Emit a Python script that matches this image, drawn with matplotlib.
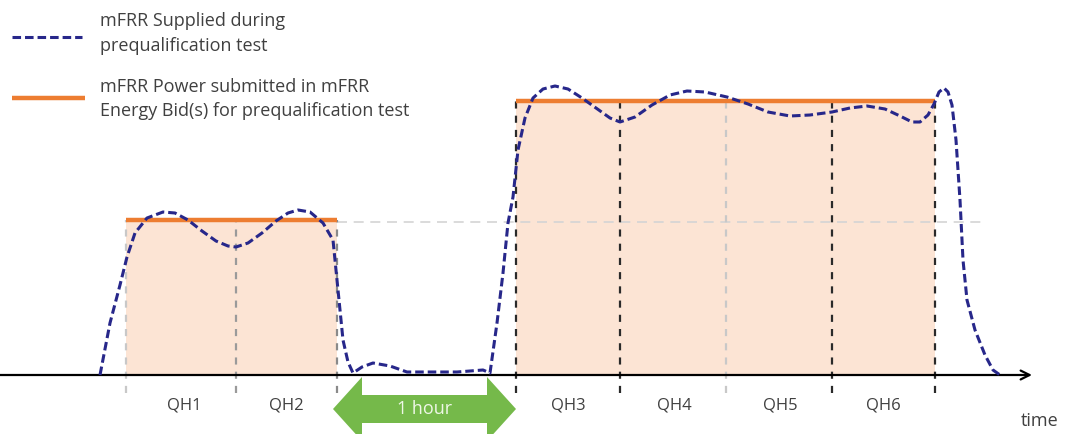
import matplotlib
matplotlib.use("Agg")
import matplotlib.pyplot as plt
from matplotlib.patches import Polygon

plt.rcParams['font.family'] = ['Open Sans', 'DejaVu Sans']

# ---- data (x: time position, y: power above the baseline) ----
qh_bounds = [126, 236, 337, 516, 620, 726, 832, 935]
qh_labels = ["QH1", "QH2", "QH3", "QH4", "QH5", "QH6"]
qh_label_x = [184, 286, 568, 674, 780, 883]
boundary_shade = ["#c8c8c8", "#9a9a9a", "#8a8a8a", "#2a2a2a", "#2a2a2a", "#c8c8c8", "#2a2a2a", "#2a2a2a"]

bid_low_x = [126, 337]
bid_low_level = 155
bid_high_x = [516, 935]
bid_high_level = 274

supplied_x = [100, 110, 120, 127, 135, 147, 163, 175, 188, 202, 216, 228, 236, 248, 262, 276,
              288, 298, 310, 323, 333, 338, 343, 348, 353, 362, 373, 390, 407, 430, 457, 483,
              490, 497, 503, 508, 513, 518, 525, 533, 543, 555, 568, 582, 596, 610, 620, 635,
              652, 670, 687, 705, 727, 748, 768, 790, 810, 832, 850, 867, 885, 900, 912, 920,
              928, 934, 939, 944, 948, 952, 956, 960, 963, 967, 975, 985, 993, 1000]
supplied_y = [375, 323, 285, 257, 233, 218, 212, 213, 220, 231, 241, 246, 247, 243, 233, 221,
              213, 210, 212, 223, 240, 290, 340, 362, 373, 367, 363, 366, 372, 372, 372, 370,
              373, 323, 273, 223, 197, 150, 118, 98, 89, 86, 89, 98, 108, 118, 122, 117,
              105, 95, 91, 92, 97, 104, 112, 116, 115, 112, 108, 106, 109, 116, 122, 122,
              115, 104, 92, 88, 92, 105, 140, 200, 260, 300, 330, 355, 370, 375]
supplied_p = [375 - v for v in supplied_y]

# ---- figure ----
fig = plt.figure(figsize=(10.67, 4.34), dpi=100)
ax = fig.add_axes([0, 0, 1, 1])
ax.set_xlim(0, 1067)
ax.set_ylim(-59, 375)
ax.axis('off')

fill_c = "#fce4d4"
orange = "#ed7d31"
navy = "#27278a"
txt_c = "#404040"

# shaded bid areas
ax.fill_between(bid_low_x, 0, bid_low_level, color=fill_c, lw=0, zorder=1)
ax.fill_between(bid_high_x, 0, bid_high_level, color=fill_c, lw=0, zorder=1)

# faint reference of the low level
ax.plot([bid_low_x[1], 985], [bid_low_level - 2, bid_low_level - 2], color="#d4d4d4",
        lw=1.2, dashes=(6, 4), zorder=2)

# QH boundaries
for bx, c in zip(qh_bounds, boundary_shade):
    top = bid_low_level if bx <= 337 else bid_high_level
    ax.plot([bx, bx], [-18, top], color=c, lw=1.6, dashes=(3.2, 3.2), zorder=3)

# time axis
ax.annotate("", xy=(1032, 0), xytext=(0, 0),
            arrowprops=dict(arrowstyle="->", color="black", lw=1.6,
                            mutation_scale=16, shrinkA=0, shrinkB=0), zorder=4)

# bid levels
ax.plot(bid_low_x, [bid_low_level] * 2, color=orange, lw=3.2, solid_capstyle='butt', zorder=5)
ax.plot(bid_high_x, [bid_high_level] * 2, color=orange, lw=3.2, solid_capstyle='butt', zorder=5)

# supplied curve
ax.plot(supplied_x, supplied_p, color=navy, lw=2.2, dashes=(2.8, 1.3), zorder=6)

# QH labels
for lx, lab in zip(qh_label_x, qh_labels):
    ax.text(lx, -31, lab, ha='center', va='center', fontsize=12, color=txt_c)
ax.text(1021, -46, "time", ha='left', va='center', fontsize=13, color=txt_c)

# green double arrow "1 hour"
xa, xb = 333, 516
yc, hb, hh, hl = -34, 14, 32, 29
arrow_pts = [(xa, yc), (xa + hl, yc + hh), (xa + hl, yc + hb), (xb - hl, yc + hb),
             (xb - hl, yc + hh), (xb, yc), (xb - hl, yc - hh), (xb - hl, yc - hb),
             (xa + hl, yc - hb), (xa + hl, yc - hh)]
ax.add_patch(Polygon(arrow_pts, closed=True, color="#75b94a", lw=0, zorder=5, clip_on=False))
ax.text((xa + xb) / 2, yc, "1 hour", ha='center', va='center', fontsize=13,
        color="#eef7e6", zorder=6)

# legend
ax.plot([12, 82], [375 - 37] * 2, color=navy, lw=2.2, dashes=(2.8, 1.3))
ax.plot([12, 85], [375 - 98] * 2, color=orange, lw=3.2, solid_capstyle='butt')
ax.text(100, 375 - 21, "mFRR Supplied during", fontsize=13, va='center', color=txt_c)
ax.text(100, 375 - 46, "prequalification test", fontsize=13, va='center', color=txt_c)
ax.text(100, 375 - 87, "mFRR Power submitted in mFRR", fontsize=13, va='center', color=txt_c)
ax.text(100, 375 - 111, "Energy Bid(s) for prequalification test", fontsize=13, va='center', color=txt_c)

fig.savefig("out.png", dpi=100)
